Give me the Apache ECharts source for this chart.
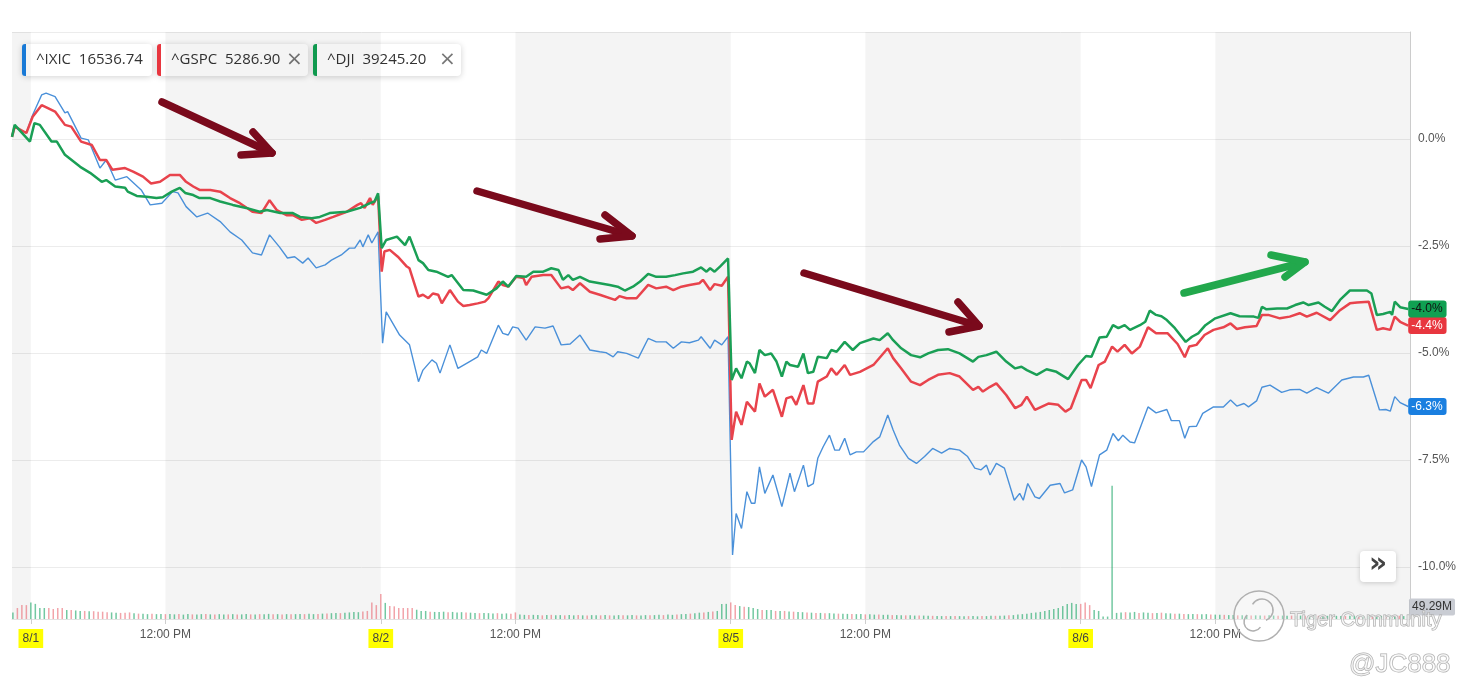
<!DOCTYPE html>
<html>
<head>
<meta charset="utf-8">
<script src="https://cdn.jsdelivr.net/npm/echarts@6/dist/echarts.min.js"></script>
<style>html,body{margin:0;padding:0;background:#fff;}#chart{width:1471px;height:699px;}</style>
</head>
<body>
<div id="chart"></div>
<script>
// ---------- DATA ----------
// x = trading minutes since 8/1 09:30 (each session = 390 min), y = % change
const DAY_LEN = 390;
const NOON_OFFSET = 150;
const dayLabels = ['8/1', '8/2', '8/5', '8/6'];
const noonLabel = '12:00 PM';
const xMin = -21, xMax = 1537;
const yTickLabels = [0, -2.5, -5, -7.5, -10];

const names = ['^IXIC', '^GSPC', '^DJI'];
const lastPrices = ['16536.74', '5286.90', '39245.20'];
const closable = [false, true, true];

const IXIC = [
[-21,0.09],[-18,0.29],[-5,0.14],[2,0.56],[12,1.03],[17,1.07],[27,0.99],[38,0.61],[41,0.64],[56,0.02],[64,-0.02],[77,-0.68],[84,-0.49],[94,-0.96],[107,-0.88],[123,-1.19],[133,-1.54],[146,-1.50],[158,-1.23],[164,-1.26],[173,-1.58],[185,-1.82],[197,-1.73],[211,-1.93],[222,-2.17],[235,-2.36],[247,-2.66],[257,-2.71],[266,-2.24],[277,-2.52],[286,-2.78],[294,-2.75],[303,-2.90],[309,-2.78],[318,-3.01],[328,-2.94],[335,-2.83],[346,-2.71],[355,-2.55],[361,-2.55],[367,-2.36],[370,-2.52],[376,-2.24],[380,-2.43],[387,-2.17],
[392,-4.77],[396,-4.04],[411,-4.58],[422,-4.81],[432,-5.67],[437,-5.40],[447,-5.16],[452,-5.24],[456,-5.47],[467,-4.81],[476,-5.36],[489,-5.20],[498,-5.09],[502,-4.93],[508,-5.01],[521,-4.35],[526,-4.54],[532,-4.58],[537,-4.39],[543,-4.42],[552,-4.70],[562,-4.39],[573,-4.42],[582,-4.37],[591,-4.81],[601,-4.79],[612,-4.58],[623,-4.93],[634,-4.97],[641,-4.99],[649,-5.09],[654,-4.97],[664,-5.01],[677,-5.12],[688,-4.66],[697,-4.74],[708,-4.74],[716,-4.89],[725,-4.74],[734,-4.76],[744,-4.70],[747,-4.62],[757,-4.89],[762,-4.70],[770,-4.81],[777,-4.62],
[782,-9.72],[786,-8.75],[792,-9.10],[798,-8.24],[803,-8.51],[807,-8.51],[812,-7.66],[818,-8.28],[827,-7.85],[837,-8.59],[846,-7.81],[851,-8.24],[861,-7.62],[866,-8.12],[872,-8.05],[877,-7.46],[883,-7.19],[890,-6.92],[896,-7.27],[901,-7.27],[907,-6.99],[913,-7.38],[920,-7.31],[928,-7.31],[939,-7.07],[946,-6.96],[955,-6.45],[961,-6.80],[968,-7.15],[978,-7.46],[987,-7.58],[996,-7.42],[1005,-7.23],[1015,-7.34],[1024,-7.23],[1035,-7.27],[1044,-7.42],[1052,-7.69],[1059,-7.73],[1065,-7.62],[1069,-7.85],[1076,-7.58],[1085,-7.69],[1096,-8.44],[1102,-8.28],[1106,-8.44],[1111,-8.05],[1119,-8.36],[1124,-8.40],[1136,-8.09],[1147,-8.05],[1152,-8.27],[1161,-8.20],
[1171,-7.50],[1176,-7.66],[1182,-8.12],[1191,-7.38],[1199,-7.27],[1206,-6.88],[1212,-7.05],[1217,-6.92],[1225,-7.08],[1230,-7.10],[1245,-6.26],[1254,-6.40],[1266,-6.32],[1271,-6.58],[1280,-6.58],[1286,-6.99],[1291,-6.72],[1299,-6.71],[1306,-6.41],[1318,-6.26],[1329,-6.26],[1337,-6.10],[1344,-6.24],[1352,-6.18],[1357,-6.26],[1366,-6.12],[1372,-5.80],[1381,-5.75],[1394,-5.92],[1403,-5.86],[1414,-5.85],[1422,-5.94],[1433,-5.81],[1446,-5.94],[1461,-5.63],[1474,-5.56],[1485,-5.56],[1491,-5.52],[1503,-6.33],[1510,-6.32],[1515,-6.36],[1520,-6.02],[1526,-6.16],[1535,-6.25]
];

const GSPC = [
[-21,0.05],[-18,0.29],[-5,0.14],[2,0.52],[12,0.79],[19,0.72],[27,0.64],[38,0.33],[45,0.29],[56,-0.06],[68,-0.14],[77,-0.49],[84,-0.49],[91,-0.72],[105,-0.68],[114,-0.76],[125,-0.88],[134,-1.04],[144,-1.00],[155,-0.84],[166,-0.84],[173,-1.00],[181,-1.11],[188,-1.19],[200,-1.19],[211,-1.23],[222,-1.38],[233,-1.50],[247,-1.70],[257,-1.73],[266,-1.43],[274,-1.66],[285,-1.78],[292,-1.78],[302,-1.89],[311,-1.85],[318,-1.96],[328,-1.89],[337,-1.82],[352,-1.70],[364,-1.54],[368,-1.50],[372,-1.61],[378,-1.38],[381,-1.54],[387,-1.33],
[391,-3.10],[394,-2.63],[400,-2.59],[409,-2.75],[419,-2.98],[422,-3.02],[432,-3.68],[437,-3.64],[443,-3.72],[448,-3.61],[454,-3.64],[458,-3.84],[467,-3.53],[476,-3.80],[482,-3.90],[489,-3.88],[498,-3.84],[506,-3.80],[510,-3.72],[521,-3.33],[526,-3.41],[532,-3.45],[541,-3.22],[549,-3.25],[552,-3.41],[558,-3.22],[571,-3.18],[580,-3.18],[591,-3.49],[599,-3.45],[604,-3.53],[612,-3.37],[623,-3.57],[634,-3.64],[651,-3.76],[656,-3.67],[664,-3.72],[675,-3.72],[688,-3.41],[697,-3.49],[708,-3.45],[716,-3.53],[725,-3.45],[734,-3.41],[745,-3.37],[749,-3.29],[757,-3.53],[762,-3.39],[770,-3.43],[777,-3.22],
[781,-7.03],[786,-6.37],[792,-6.68],[798,-6.14],[807,-6.37],[812,-5.71],[818,-6.02],[827,-5.86],[837,-6.49],[842,-6.06],[848,-6.02],[853,-6.21],[861,-5.75],[866,-6.18],[872,-6.18],[877,-5.67],[887,-5.55],[892,-5.36],[898,-5.51],[907,-5.28],[913,-5.51],[924,-5.44],[939,-5.28],[955,-4.89],[961,-5.12],[970,-5.36],[981,-5.67],[991,-5.75],[1000,-5.63],[1011,-5.51],[1024,-5.47],[1035,-5.55],[1050,-5.86],[1056,-5.79],[1061,-5.90],[1069,-5.79],[1076,-5.71],[1087,-5.98],[1097,-6.29],[1104,-6.21],[1110,-6.02],[1119,-6.33],[1134,-6.18],[1145,-6.21],[1153,-6.37],[1159,-6.29],
[1171,-5.63],[1176,-5.63],[1181,-5.82],[1190,-5.28],[1197,-5.20],[1205,-4.85],[1211,-4.97],[1219,-4.81],[1227,-5.01],[1236,-4.85],[1245,-4.40],[1254,-4.54],[1267,-4.54],[1278,-4.79],[1286,-5.10],[1291,-4.85],[1299,-4.81],[1308,-4.58],[1318,-4.46],[1329,-4.40],[1337,-4.31],[1344,-4.44],[1353,-4.40],[1366,-4.37],[1372,-4.11],[1379,-4.11],[1392,-4.19],[1403,-4.15],[1414,-4.07],[1422,-4.15],[1433,-4.06],[1448,-4.23],[1459,-4.00],[1470,-3.84],[1478,-3.82],[1491,-3.80],[1500,-4.46],[1507,-4.42],[1515,-4.46],[1520,-4.15],[1526,-4.27],[1535,-4.36]
];

const DJI = [
[-21,0.05],[-18,0.33],[-1,-0.06],[4,0.37],[10,0.33],[23,-0.06],[29,-0.06],[38,-0.37],[55,-0.65],[66,-0.79],[79,-1.00],[84,-0.96],[94,-1.11],[105,-1.14],[108,-1.23],[118,-1.33],[129,-1.35],[140,-1.38],[147,-1.36],[157,-1.23],[166,-1.14],[172,-1.26],[181,-1.31],[188,-1.38],[200,-1.38],[211,-1.46],[225,-1.54],[240,-1.61],[255,-1.70],[263,-1.66],[278,-1.73],[292,-1.73],[300,-1.82],[313,-1.85],[322,-1.82],[333,-1.73],[352,-1.70],[367,-1.61],[378,-1.50],[383,-1.46],[387,-1.27],
[391,-2.55],[396,-2.36],[408,-2.28],[417,-2.48],[422,-2.28],[432,-2.83],[437,-2.90],[443,-3.06],[452,-3.10],[465,-3.22],[469,-3.18],[482,-3.53],[493,-3.54],[508,-3.64],[519,-3.49],[526,-3.33],[532,-3.45],[541,-3.20],[552,-3.22],[560,-3.10],[571,-3.10],[580,-3.02],[588,-3.06],[593,-3.29],[599,-3.18],[604,-3.29],[612,-3.22],[623,-3.33],[634,-3.37],[645,-3.41],[654,-3.45],[662,-3.54],[671,-3.45],[679,-3.33],[688,-3.15],[697,-3.22],[708,-3.22],[718,-3.18],[727,-3.14],[738,-3.10],[747,-3.00],[753,-3.10],[757,-3.02],[762,-3.10],[768,-2.98],[777,-2.79],
[781,-5.63],[786,-5.36],[792,-5.59],[798,-5.20],[801,-5.24],[807,-5.47],[812,-4.93],[818,-5.05],[825,-5.01],[831,-5.20],[837,-5.55],[842,-5.20],[846,-5.28],[855,-5.32],[861,-5.01],[866,-5.47],[872,-5.44],[877,-5.09],[887,-5.12],[892,-4.93],[898,-4.97],[907,-4.74],[916,-4.93],[924,-4.77],[939,-4.66],[946,-4.70],[955,-4.54],[961,-4.70],[970,-4.89],[981,-5.05],[991,-5.10],[1000,-5.01],[1011,-4.93],[1022,-4.91],[1035,-5.01],[1050,-5.20],[1056,-5.09],[1065,-5.05],[1076,-4.97],[1087,-5.20],[1097,-5.36],[1104,-5.32],[1110,-5.40],[1121,-5.51],[1132,-5.38],[1143,-5.44],[1156,-5.61],[1167,-5.28],
[1176,-5.07],[1182,-5.09],[1191,-4.64],[1199,-4.62],[1206,-4.35],[1212,-4.42],[1219,-4.35],[1225,-4.46],[1236,-4.35],[1242,-4.27],[1247,-4.01],[1254,-4.11],[1260,-4.14],[1266,-4.23],[1275,-4.42],[1287,-4.74],[1294,-4.62],[1301,-4.54],[1309,-4.35],[1320,-4.19],[1337,-4.07],[1347,-4.14],[1363,-4.15],[1368,-4.18],[1372,-3.92],[1377,-3.98],[1389,-3.96],[1400,-3.96],[1409,-3.88],[1418,-3.82],[1424,-3.88],[1435,-3.82],[1442,-3.92],[1450,-4.02],[1459,-3.76],[1470,-3.54],[1478,-3.54],[1489,-3.54],[1494,-3.61],[1500,-4.11],[1507,-4.09],[1515,-4.04],[1517,-4.11],[1520,-3.80],[1526,-3.93],[1535,-3.97]
];

// 5-minute volume (millions); sign: + up bar (green), - down bar (red)
const vol0801 = [27,-45,-57,-57, // pre-open
68,62,45,45,-45,-41,-45,-45,37,-37,
35,33,-33,32,-32,-30,-30,-28,27,26,
-25,-26,-27,24,-22,22,20,-22,20,20,
-20,21,19,-20,18,20,-19,18,20,-20,
19,-18,20,18,-19,20,-18,19,20,-19,
18,-20,19,21,-19,20,-18,20,-19,20,
21,-20,22,20,-21,22,-23,24,25,-24,
26,27,29,28,-31,-33,-68,-57];
const vol0802 = [-103,66,-53,-52,-45,-45,-45,-45,38,33,
33,-30,29,29,30,-28,29,27,28,-27,
26,25,-24,25,24,23,-24,22,23,-22,
-27,18,17,-16,17,16,-15,16,-17,15,
16,-15,16,15,-16,15,-14,16,15,-15,
16,-15,14,16,-15,15,16,-15,14,16,
-15,16,17,-16,18,17,-18,20,21,-22,
24,26,-27,29,-31,33,62,62];
const vol0805 = [-68,-57,53,-50,49,45,41,-37,37,37,
-33,33,-33,31,-30,29,28,-27,26,-25,
25,-24,24,23,-22,22,21,-21,20,20,
-19,19,18,-18,17,17,-16,16,15,-15,
15,14,-14,14,13,-13,12,12,-12,12,
-12,12,11,-12,12,11,-12,12,13,-13,
13,14,-15,16,18,20,22,25,27,29,
33,37,41,45,53,62,66,62];
const vol0806 = [-62,-68,-57,37,33,10,10,546,25,27,
-28,27,29,-25,27,26,-24,25,-26,24,
23,-22,22,-21,20,21,-20,19,20,-18,
18,17,-17,16,16,-15,15,16,-14,15,
14,-14,15,14,-13,14,13,-14,13,14,
-13,13,14,-13,12,13,-12,13,12,-12,
13,12,-12,13,12,-13,12,13,-12,13,
12,-13,12];
const lastVolumeLabel = '49.29M';
const lastVolumeLevel = 49.29;

// ---------- BUILD ----------
const lineColors = ['#4a90d9', '#e8434c', '#1a9f55'];
const tagColors = ['#1a7fe0', '#e8363f', '#10a052'];
const tagText = ['#fff', '#fff', '#111'];

const volData = [];
function pushVol(arr, start) {
  arr.forEach((v, k) => volData.push([start + 5 * k, Math.abs(v), v >= 0 ? 1 : -1]));
}
pushVol(vol0801, -20);
pushVol(vol0802, DAY_LEN);
pushVol(vol0805, 2 * DAY_LEN);
pushVol(vol0806, 3 * DAY_LEN);

const xTickVals = [];
dayLabels.forEach((d, i) => { xTickVals.push(i * DAY_LEN, i * DAY_LEN + NOON_OFFSET); });

const bands = [[{xAxis: xMin}, {xAxis: 0}]];
dayLabels.forEach((d, i) => {
  const s = i * DAY_LEN + NOON_OFFSET;
  bands.push([{xAxis: s}, {xAxis: Math.min((i + 1) * DAY_LEN, xMax)}]);
});

const GRID_LEFT = 12, GRID_RIGHT = 61, GRID_TOP = 32;

const lineSeries = [IXIC, GSPC, DJI].map((d, i) => ({
  name: names[i],
  type: 'line',
  xAxisIndex: 0, yAxisIndex: 0,
  data: d,
  showSymbol: false,
  z: 5 + i,
  lineStyle: {color: lineColors[i], width: i === 0 ? 1.4 : 2.5},
  itemStyle: {color: lineColors[i]},
  endLabel: {
    show: true,
    formatter: p => p.value[1].toFixed(1) + '%',
    backgroundColor: tagColors[i],
    color: tagText[i],
    padding: [3, 4, 2, 3],
    borderRadius: 3,
    fontSize: 12,
    fontFamily: 'Liberation Sans',
    distance: 0
  }
}));

// legend chips
const legendGraphics = [];
const chipW = [130, 151, 148];
let cx = 22;
names.forEach((n, i) => {
  legendGraphics.push({
    type: 'group', children: [
      {type: 'rect', shape: {x: cx, y: 44, width: chipW[i], height: 32, r: 4},
       style: {fill: '#fff', shadowBlur: 6, shadowColor: 'rgba(0,0,0,0.18)', shadowOffsetY: 1}},
      {type: 'rect', shape: {x: cx, y: 44, width: 4, height: 32, r: [3, 0, 0, 3]}, style: {fill: tagColors[i]}},
      {type: 'text', style: {text: n + '  ' + lastPrices[i], x: cx + 14, y: 60, fill: '#333',
        font: '15px "Open Sans"', verticalAlign: 'middle'}}
    ].concat(closable[i] ? [{type: 'text', style: {text: '×', x: cx + chipW[i] - 22, y: 60, fill: '#777',
        font: '20px "DejaVu Sans"', verticalAlign: 'middle'}}] : [])
  });
  cx += chipW[i] + 5;
});

function arrow(pts, head1, head2, color) {
  const common = {stroke: color, lineWidth: 7.5, lineCap: 'round', lineJoin: 'round', fill: null};
  return [
    {type: 'polyline', shape: {points: pts}, style: common, z: 50},
    {type: 'polyline', shape: {points: [head1, pts[pts.length - 1], head2]}, style: common, z: 50}
  ];
}
const ARROW_RED = '#7a0a1c', ARROW_GREEN = '#22a84c';
const arrows = [].concat(
  arrow([[162, 102], [272, 153]], [253, 132], [241, 155], ARROW_RED),
  arrow([[477, 191], [632, 236]], [605, 215], [600, 239], ARROW_RED),
  arrow([[804, 273], [979, 326]], [958, 302], [949, 332], ARROW_RED),
  arrow([[1184, 293], [1305, 262]], [1271, 255], [1285, 277], ARROW_GREEN)
);

const hollow = {fill: 'rgba(255,255,255,0.55)', stroke: '#a9a9a9', lineWidth: 1};
const extras = [
  // scroll button
  {type: 'rect', shape: {x: 1360, y: 551, width: 36, height: 31, r: 4},
   style: {fill: '#fff', shadowBlur: 5, shadowColor: 'rgba(0,0,0,0.18)', shadowOffsetY: 1}, z: 40},
  {type: 'text', style: {text: '»', x: 1378, y: 565, align: 'center', verticalAlign: 'middle',
     font: 'bold 28px "DejaVu Sans"', fill: '#444'}, z: 41},
  // watermark
  {type: 'circle', shape: {cx: 1259, cy: 616, r: 25}, style: {fill: 'rgba(255,255,255,0.25)', stroke: '#b0b0b0', lineWidth: 1.5}, z: 60},
  {type: 'arc', shape: {cx: 1262, cy: 610, r: 11, startAngle: -2.6, endAngle: 1.2}, style: {stroke: '#b0b0b0', lineWidth: 1.5, fill: null}, z: 60},
  {type: 'arc', shape: {cx: 1253, cy: 622, r: 9, startAngle: 0.6, endAngle: 4.0}, style: {stroke: '#b0b0b0', lineWidth: 1.5, fill: null}, z: 60},
  {type: 'text', style: Object.assign({text: 'Tiger Community', x: 1290, y: 620, verticalAlign: 'middle',
     font: '20px "Liberation Sans"'}, hollow), z: 60},
  {type: 'text', style: Object.assign({text: '@JC888', x: 1349, y: 665, verticalAlign: 'middle',
     font: '26px "Liberation Sans"'}, hollow), z: 60}
];

const option = {
  animation: false,
  backgroundColor: '#fff',
  grid: [
    {left: GRID_LEFT, right: GRID_RIGHT, top: GRID_TOP, bottom: 132},
    {left: GRID_LEFT, right: GRID_RIGHT, top: GRID_TOP, bottom: 80}
  ],
  xAxis: [
    {type: 'value', gridIndex: 0, min: xMin, max: xMax, show: false, splitLine: {show: false}},
    {type: 'value', gridIndex: 1, min: xMin, max: xMax,
     splitLine: {show: false},
     axisLine: {show: true, onZero: false, lineStyle: {color: '#e2e2e2'}},
     axisTick: {show: true, customValues: xTickVals, length: 5, lineStyle: {color: '#cfcfcf'}},
     axisLabel: {
       customValues: xTickVals, margin: 10,
       fontFamily: 'Liberation Sans', fontSize: 12, color: '#555',
       formatter: v => (v % DAY_LEN === 0) ? '{d|' + dayLabels[v / DAY_LEN] + '}' : noonLabel,
       rich: {d: {backgroundColor: '#ffff00', padding: [4, 4, 3, 4], color: '#444',
                  fontFamily: 'Liberation Sans', fontSize: 12}}
     }}
  ],
  yAxis: [
    {type: 'value', gridIndex: 0, position: 'right', min: -10, max: 2.5, interval: 2.5,
     axisLine: {show: false, onZero: false}, axisTick: {show: false},
     splitLine: {show: true, lineStyle: {color: '#ececec'}},
     axisLabel: {showMaxLabel: false, margin: 8, fontFamily: 'Liberation Sans', fontSize: 12, color: '#555',
       formatter: v => yTickLabels.indexOf(v) >= 0 ? v.toFixed(1) + '%' : ''}},
    {type: 'value', gridIndex: 1, position: 'right', min: 0, max: 2407,
     axisLine: {show: true, onZero: false, lineStyle: {color: '#cccccc'}}, axisTick: {show: false},
     splitLine: {show: false},
     axisLabel: {customValues: [lastVolumeLevel], margin: -1, formatter: () => lastVolumeLabel,
       backgroundColor: '#c9ccd3', color: '#333', padding: [3, 3, 2, 3], borderRadius: 2,
       fontFamily: 'Liberation Sans', fontSize: 12}}
  ],
  series: [
    {type: 'line', xAxisIndex: 1, yAxisIndex: 1, data: [], z: 0, silent: true,
     markArea: {silent: true, itemStyle: {color: 'rgba(0,0,0,0.042)'}, data: bands}},
    {type: 'bar', xAxisIndex: 1, yAxisIndex: 1, z: 1, barWidth: 1.5,
     data: volData, encode: {x: 0, y: 1},
     itemStyle: {color: p => p.data[2] > 0 ? 'rgba(40,170,110,0.65)' : 'rgba(232,90,100,0.55)'}}
  ].concat(lineSeries),
  graphic: legendGraphics.concat(arrows, extras)
};

const chart = echarts.init(document.getElementById('chart'), null, {renderer: 'canvas'});
chart.setOption(option);
</script>
</body>
</html>
